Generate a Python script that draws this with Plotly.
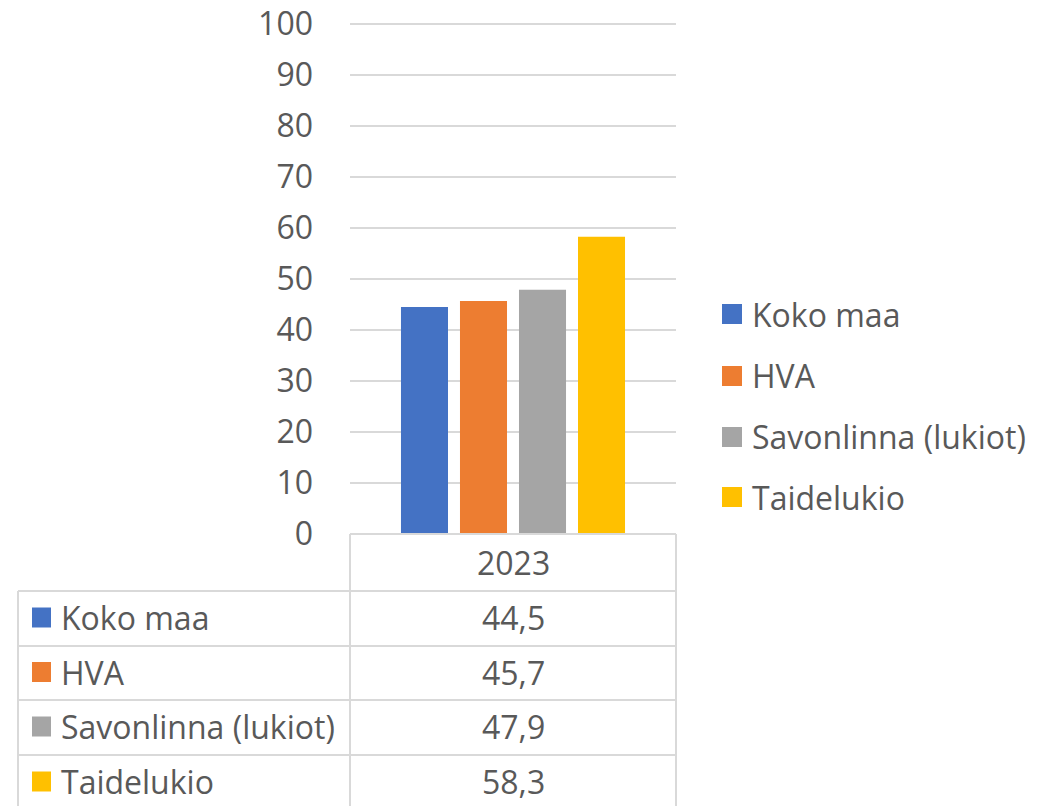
import plotly.graph_objects as go

# Data
categories = ["2023"]
series_names = ["Koko maa", "HVA", "Savonlinna (lukiot)", "Taidelukio"]
series_values = [44.5, 45.7, 47.9, 58.3]
series_colors = ["#4472C4", "#ED7D31", "#A5A5A5", "#FFC000"]
y_ticks = [0, 10, 20, 30, 40, 50, 60, 70, 80, 90, 100]

W, H = 1058, 806
TEXT = "#595959"
GRID = "#D9D9D9"
FONT = "Open Sans, DejaVu Sans, sans-serif"
FS = 32


def px(x):
    return x / W


def py(y):
    return 1 - y / H


fig = go.Figure()
for name, val, col in zip(series_names, series_values, series_colors):
    fig.add_trace(go.Bar(x=categories, y=[val], name=name, marker_color=col,
                         marker_line_width=0, showlegend=False))

plot_left, plot_right, plot_top, plot_bottom = 350, 676, 23, 534

shapes = []
annotations = []

# Legend on the right
leg_y = [314, 376, 437, 497]
for name, col, yc in zip(series_names, series_colors, leg_y):
    shapes.append(dict(type="rect", xref="paper", yref="paper",
                       x0=px(722), x1=px(742), y0=py(yc + 10), y1=py(yc - 10),
                       fillcolor=col, line_width=0))
    annotations.append(dict(xref="paper", yref="paper", x=px(750), y=py(yc),
                            text=name, showarrow=False, xanchor="left",
                            yanchor="middle", font=dict(size=FS, color=TEXT, family=FONT)))

# Data table below the plot
line = dict(color=GRID, width=2)
header_top = plot_bottom
row_lines = [591, 646, 700, 755, 810]
table_left = 18
shapes.append(dict(type="line", xref="paper", yref="paper", x0=px(plot_left), x1=px(plot_right),
                   y0=py(header_top), y1=py(header_top), line=line))
for yl in row_lines[:-1]:
    shapes.append(dict(type="line", xref="paper", yref="paper", x0=px(table_left), x1=px(plot_right),
                       y0=py(yl), y1=py(yl), line=line))
for xl, ytop in [(plot_left, header_top), (plot_right, header_top), (table_left, row_lines[0])]:
    shapes.append(dict(type="line", xref="paper", yref="paper", x0=px(xl), x1=px(xl),
                       y0=py(ytop), y1=0, line=line))

annotations.append(dict(xref="paper", yref="paper", x=px((plot_left + plot_right) / 2),
                        y=py((header_top + row_lines[0]) / 2), text=categories[0],
                        showarrow=False, xanchor="center", yanchor="middle",
                        font=dict(size=FS, color=TEXT, family=FONT)))
for i, (name, val, col) in enumerate(zip(series_names, series_values, series_colors)):
    yc = (row_lines[i] + row_lines[i + 1]) / 2 - 1
    shapes.append(dict(type="rect", xref="paper", yref="paper",
                       x0=px(32), x1=px(51), y0=py(yc + 10), y1=py(yc - 10),
                       fillcolor=col, line_width=0))
    annotations.append(dict(xref="paper", yref="paper", x=px(59), y=py(yc), text=name,
                            showarrow=False, xanchor="left", yanchor="middle",
                            font=dict(size=FS, color=TEXT, family=FONT)))
    annotations.append(dict(xref="paper", yref="paper", x=px((plot_left + plot_right) / 2),
                            y=py(yc), text=f"{val:.1f}".replace(".", ","),
                            showarrow=False, xanchor="center", yanchor="middle",
                            font=dict(size=FS, color=TEXT, family=FONT)))

fig.update_layout(
    width=W, height=H,
    margin=dict(l=0, r=0, t=0, b=0, pad=0, autoexpand=False),
    paper_bgcolor="white", plot_bgcolor="white",
    barmode="group", bargap=0.276, bargroupgap=0.203,
    font=dict(family=FONT, color=TEXT, size=FS),
    xaxis=dict(domain=[px(plot_left), px(plot_right)], showticklabels=False,
               showgrid=False, zeroline=False, showline=False, ticks="",
               automargin=False),
    yaxis=dict(domain=[py(plot_bottom), py(plot_top)], range=[0, 100.2],
               tickvals=y_ticks, ticktext=[str(v) for v in y_ticks],
               showgrid=True, gridcolor=GRID, gridwidth=1.5, zeroline=False,
               showline=False, ticks="", ticklabelstandoff=36, automargin=False,
               tickfont=dict(size=FS, color=TEXT, family=FONT)),
    shapes=shapes,
    annotations=annotations,
)

fig.write_html("out.html")
